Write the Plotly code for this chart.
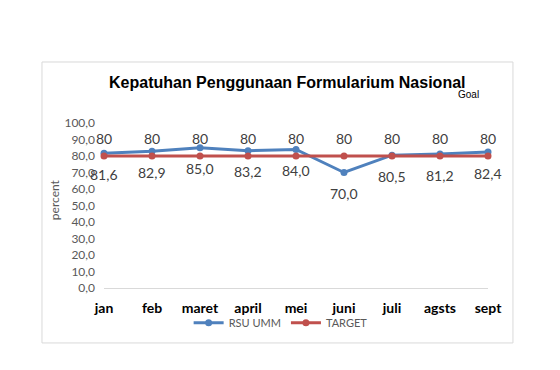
import plotly.graph_objects as go

months = ["jan", "feb", "maret", "april", "mei", "juni", "juli", "agsts", "sept"]
rsu_umm = [81.6, 82.9, 85.0, 83.2, 84.0, 70.0, 80.5, 81.2, 82.4]
target = [80, 80, 80, 80, 80, 80, 80, 80, 80]
y_ticks = [0, 10, 20, 30, 40, 50, 60, 70, 80, 90, 100]
y_tick_labels = [f"{v:.1f}".replace(".", ",") for v in y_ticks]

x_idx = list(range(len(months)))
label_font = dict(family="Lato, Open Sans, sans-serif", size=14, color="#404040")

fig = go.Figure()
fig.add_trace(go.Scatter(
    x=x_idx, y=rsu_umm, name="RSU UMM", mode="lines+markers",
    line=dict(color="#4F81BD", width=3), marker=dict(size=7, color="#4F81BD"),
    cliponaxis=False,
))
fig.add_trace(go.Scatter(
    x=x_idx, y=target, name="TARGET", mode="lines+markers",
    line=dict(color="#C0504D", width=3), marker=dict(size=7, color="#C0504D"),
    cliponaxis=False,
))

annotations = []
for i, v in zip(x_idx, rsu_umm):
    annotations.append(dict(x=i, y=v, xref="x", yref="y", text=f"{v:.1f}".replace(".", ","),
                            showarrow=False, yshift=-21, font=label_font))
for i, v in zip(x_idx, target):
    annotations.append(dict(x=i, y=v, xref="x", yref="y", text=str(v),
                            showarrow=False, yshift=18, font=label_font))
annotations += [
    dict(text="<b>Kepatuhan Penggunaan Formularium Nasional</b>", xref="paper", yref="paper",
         x=0.4766, y=1.248, xanchor="center", yanchor="middle", showarrow=False,
         font=dict(family="Liberation Sans, Arial, sans-serif", size=16, color="black")),
    dict(text="Goal", xref="paper", yref="paper", x=0.948, y=1.17,
         xanchor="center", yanchor="middle", showarrow=False,
         font=dict(family="Liberation Sans, Arial, sans-serif", size=10, color="black")),
    dict(text="percent", xref="paper", yref="paper", x=-0.13, y=0.533,
         xanchor="center", yanchor="middle", showarrow=False, textangle=-90,
         font=dict(family="Lato, sans-serif", size=12, color="#595959")),
]

fig.update_layout(
    width=552, height=362,
    margin=dict(l=96, r=72, t=115, b=82, autoexpand=False),
    paper_bgcolor="white", plot_bgcolor="white",
    showlegend=True,
    legend=dict(orientation="h", x=0.46, y=-0.21, xanchor="center", yanchor="middle",
                bgcolor="rgba(0,0,0,0)",
                font=dict(family="Lato, sans-serif", size=11, color="#595959"),
                itemwidth=30, tracegroupgap=0),
    annotations=annotations,
    shapes=[
        dict(type="rect", xref="paper", yref="paper", x0=-0.1615, x1=1.065, y0=-0.333, y1=1.3697,
             line=dict(color="#d9d9d9", width=1), fillcolor="rgba(0,0,0,0)", layer="below"),
    ],
)
fig.update_xaxes(
    range=[0, 8], tickmode="array", tickvals=x_idx,
    ticktext=[f"<b>{m}</b>" for m in months],
    tickfont=dict(family="Lato, sans-serif", size=14, color="black"),
    showgrid=False, zeroline=False, showline=False, ticks="", ticklabelstandoff=10,
)
fig.update_yaxes(
    range=[0, 100], tickmode="array", tickvals=y_ticks, ticktext=y_tick_labels,
    tickfont=dict(family="Lato, sans-serif", size=12, color="#595959"),
    showgrid=False, zeroline=True, zerolinecolor="#d9d9d9", zerolinewidth=1,
    showline=False, ticks="", ticklabelstandoff=8,
)

fig.write_html("out.html")
